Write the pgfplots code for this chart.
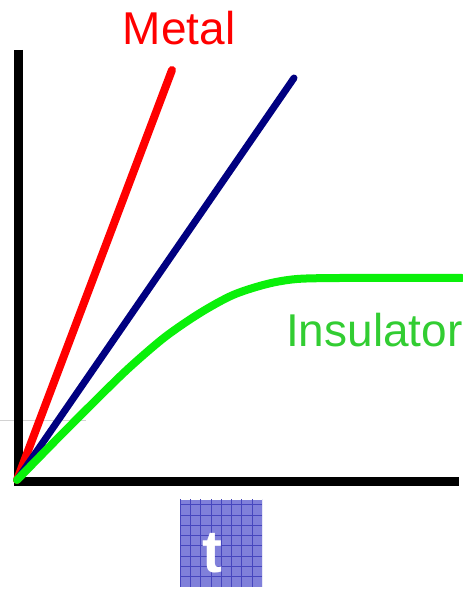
\documentclass[border=0pt]{standalone}
\usepackage{pgfplots}
\pgfplotsset{compat=1.18}
\usepackage{fontspec}
\setmainfont{Liberation Sans}
\definecolor{metalred}{RGB}{255,0,0}
\definecolor{navyblue}{RGB}{0,0,128}
\definecolor{lgreen}{RGB}{10,240,10}
\definecolor{txtgreen}{RGB}{50,205,50}
\definecolor{boxfill}{RGB}{128,128,218}
\definecolor{boxgrid}{RGB}{70,70,190}
\begin{document}
\begin{tikzpicture}
\useasboundingbox (0,0) rectangle (463pt,595pt);
\begin{axis}[x=1pt,y=1pt,xmin=0,xmax=463,ymin=0,ymax=595,
  hide axis, scale only axis, clip=false, anchor=origin, at={(0,0)}]
% faint artifact line
\addplot[gray!35, line width=0.8pt] coordinates {(0,175) (86,175)};
% axes
\addplot[black, line width=9pt] coordinates {(18.5,545) (18.5,109)};
\addplot[black, line width=9pt] coordinates {(14,113.5) (459,113.5)};
% metal (red)
\addplot[metalred, line width=8pt, line cap=round] coordinates {(17,115) (172,525)};
% blue
\addplot[navyblue, line width=7pt, line cap=round] coordinates {(17,115) (294,517)};
% insulator (green)
\addplot[lgreen, line width=8pt, line cap=round, smooth, tension=0.5] coordinates {
 (17,115) (60,159) (100,199) (130,228) (165,258) (200,282) (233,300) (267,311) (297,316) (340,317) (400,317) (462,317)};
\end{axis}
% labels
\node[anchor=base, text=metalred, font=\fontsize{46}{50}\selectfont, inner sep=0pt] at (179pt,550pt) {Metal};
\node[anchor=base west, text=txtgreen, font=\fontsize{46}{50}\selectfont, inner sep=0pt] at (286pt,248pt) {Insulator};
% t box
\fill[boxfill] (180pt,8pt) rectangle (262pt,95pt);
\begin{scope}
\clip (180pt,8pt) rectangle (262pt,95pt);
\draw[boxgrid, line width=0.7pt, step=10.3pt, shift={(180pt,8pt)}] (0,0) grid (83pt,88pt);
\end{scope}
\node[anchor=base, text=white, font=\fontsize{60}{64}\selectfont\bfseries, inner sep=0pt] at (212pt,23pt) {t};
\end{tikzpicture}
\end{document}
